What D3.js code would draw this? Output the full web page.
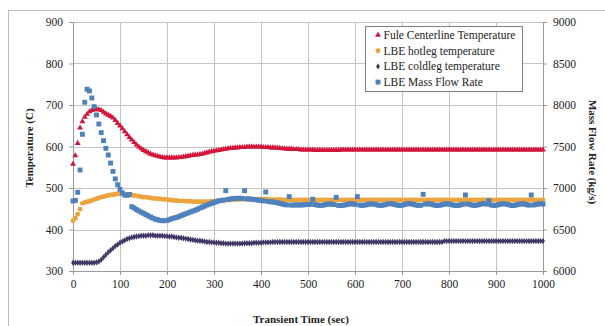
<!DOCTYPE html>
<html>
<head>
<meta charset="utf-8">
<script src="https://cdn.jsdelivr.net/npm/d3@7"></script>
<style>
  body { margin: 0; background: #fff; }
  svg { display: block; }
  text { font-family: "Liberation Serif", "Times New Roman", serif; fill: #222; }
</style>
</head>
<body>
<svg id="chart" width="605" height="326"></svg>
<script>
// sample times (s), one reading every 5 s
const time = d3.range(0, 1001, 5);

// Fuel centerline temperature (C)
const fuelTemp = [
  558, 578, 608, 645, 660, 671, 678, 684, 687, 689,
  690, 689, 687, 683, 679, 676, 673, 669, 663, 656,
  650, 643, 636, 629, 622, 616, 610, 604, 599, 595,
  591, 588, 585, 582, 580, 578, 577, 575, 574, 573,
  573, 573, 573, 573, 573, 574, 574, 575, 576, 577,
  578, 579, 580, 580, 581, 582, 584, 585, 587, 588,
  589, 590, 591, 592, 593, 594, 595, 596, 596, 597,
  597, 598, 598, 598, 599, 599, 599, 599, 599, 599,
  599, 598, 598, 598, 597, 597, 597, 596, 596, 595,
  595, 594, 594, 594, 593, 593, 593, 592, 592, 592,
  592, 592, 592, 591, 591, 591, 591, 591, 591, 591,
  591, 591, 591, 591, 592, 592, 592, 592, 592, 592,
  592, 592, 592, 592, 592, 592, 592, 592, 592, 592,
  592, 592, 592, 592, 592, 592, 592, 592, 592, 592,
  592, 592, 592, 592, 592, 592, 592, 592, 592, 592,
  592, 592, 592, 592, 592, 592, 592, 592, 592, 592,
  592, 592, 592, 592, 592, 592, 592, 592, 592, 592,
  592, 592, 592, 592, 592, 592, 592, 592, 592, 592,
  592, 592, 592, 592, 592, 592, 592, 592, 592, 592,
  592, 592, 592, 592, 592, 592, 592, 592, 592, 592,
  592
];

// LBE hotleg temperature (C)
const hotTemp = [
  421, 427, 437, 449, 463, 465, 467, 468, 470, 472,
  474, 476, 478, 479, 481, 482, 483, 484, 485, 486,
  486, 486, 485, 484, 483, 483, 482, 481, 480, 479,
  478, 478, 477, 476, 475, 475, 474, 474, 473, 473,
  472, 471, 471, 470, 470, 469, 469, 469, 468, 468,
  468, 467, 467, 467, 467, 467, 467, 467, 467, 468,
  468, 469, 469, 470, 470, 471, 471, 471, 472, 472,
  472, 473, 473, 473, 473, 473, 473, 473, 473, 473,
  473, 473, 473, 473, 472, 472, 472, 472, 472, 472,
  471, 471, 471, 471, 471, 471, 471, 471, 471, 471,
  471, 471, 471, 471, 471, 471, 471, 471, 471, 471,
  471, 471, 471, 471, 471, 471, 471, 471, 471, 471,
  471, 471, 471, 471, 471, 471, 471, 471, 471, 471,
  471, 471, 471, 471, 471, 471, 471, 471, 471, 471,
  471, 471, 471, 471, 471, 471, 471, 471, 471, 471,
  471, 471, 471, 471, 471, 471, 471, 471, 471, 471,
  471, 471, 471, 471, 471, 471, 471, 471, 471, 471,
  471, 471, 471, 471, 471, 471, 471, 471, 471, 471,
  471, 471, 471, 471, 471, 471, 471, 471, 471, 471,
  471, 471, 471, 471, 471, 471, 471, 471, 471, 471,
  471
];

// LBE coldleg temperature (C)
const coldTemp = [
  320, 320, 320, 320, 320, 320, 320, 320, 320, 320,
  321, 323, 327, 333, 339, 345, 350, 355, 360, 364,
  368, 371, 374, 377, 379, 381, 382, 383, 384, 385,
  385, 385, 386, 386, 386, 385, 385, 385, 385, 384,
  384, 383, 383, 382, 381, 380, 380, 379, 378, 377,
  376, 375, 374, 373, 373, 372, 371, 370, 370, 369,
  369, 368, 368, 367, 367, 366, 366, 366, 366, 366,
  366, 366, 366, 367, 367, 367, 367, 368, 368, 368,
  368, 369, 369, 369, 369, 370, 370, 370, 370, 370,
  370, 370, 370, 370, 370, 370, 370, 370, 370, 370,
  370, 370, 370, 370, 370, 370, 370, 370, 370, 370,
  370, 370, 370, 370, 370, 370, 370, 370, 370, 370,
  370, 370, 370, 370, 370, 370, 370, 370, 370, 370,
  370, 370, 370, 370, 370, 370, 370, 370, 370, 370,
  370, 370, 370, 370, 370, 370, 370, 370, 370, 370,
  370, 370, 370, 370, 370, 370, 370, 370, 372, 372,
  372, 372, 372, 372, 372, 372, 372, 372, 372, 372,
  372, 372, 372, 372, 372, 372, 372, 372, 372, 372,
  372, 372, 372, 372, 372, 372, 372, 372, 372, 372,
  372, 372, 372, 372, 372, 372, 372, 372, 372, 372,
  372
];

// LBE mass flow rate (kg/s)
const massFlow = [
  6843, 6850, 6948, 7217, 7647, 8033, 8190, 8169, 8085, 7980,
  7880, 7771, 7667, 7570, 7478, 7398, 7300, 7200, 7110, 7040,
  6985, 6940, 6915, 6912, 6922, 6775, 6760, 6740, 6725, 6708,
  6695, 6680, 6665, 6650, 6637, 6625, 6617, 6610, 6606, 6606,
  6610, 6618, 6630, 6638, 6645, 6655, 6668, 6678, 6690, 6700,
  6712, 6722, 6732, 6745, 6758, 6770, 6782, 6795, 6805, 6815,
  6825, 6835, 6845, 6850, 6855, 6968, 6862, 6868, 6872, 6875,
  6876, 6876, 6875, 6968, 6870, 6868, 6866, 6862, 6858, 6852,
  6848, 6845, 6952, 6838, 6835, 6832, 6828, 6822, 6815, 6808,
  6800, 6796, 6896, 6794, 6795, 6796, 6795, 6796, 6797, 6800,
  6802, 6804, 6864, 6800, 6795, 6790, 6792, 6797, 6803, 6808,
  6806, 6800, 6888, 6790, 6788, 6792, 6798, 6804, 6810, 6808,
  6803, 6896, 6794, 6790, 6793, 6799, 6806, 6810, 6806, 6800,
  6793, 6790, 6794, 6801, 6808, 6812, 6808, 6801, 6794, 6790,
  6793, 6800, 6808, 6812, 6809, 6802, 6795, 6790, 6792, 6924,
  6806, 6811, 6808, 6800, 6793, 6789, 6792, 6799, 6806, 6810,
  6807, 6800, 6793, 6789, 6791, 6798, 6805, 6916, 6807, 6800,
  6793, 6790, 6795, 6802, 6809, 6812, 6806, 6847, 6795, 6790,
  6792, 6799, 6806, 6811, 6808, 6801, 6794, 6789, 6792, 6799,
  6806, 6810, 6807, 6800, 6793, 6916, 6795, 6802, 6808, 6811,
  6806
];

const timeTicks = d3.range(0, 1001, 100);
const tempTicks = [300, 400, 500, 600, 700, 800, 900];
const flowTicks = [6000, 6500, 7000, 7500, 8000, 8500, 9000];

const legendLabels = [
  'Fule Centerline Temperature',
  'LBE hotleg temperature',
  'LBE coldleg temperature',
  'LBE Mass Flow Rate'
];

const margin = { top: 22, right: 62, bottom: 55, left: 73 };
const width = 605 - margin.left - margin.right;
const height = 326 - margin.top - margin.bottom;

const root = d3.select('#chart');

// outer chart frame (only the left/top edges fall inside the picture)
root.append('rect')
  .attr('x', 8.5)
  .attr('y', 10.5)
  .attr('width', 620)
  .attr('height', 340)
  .attr('fill', '#fff')
  .attr('stroke', '#bfbfbf');

const svg = root.append('g')
  .attr('transform', `translate(${margin.left},${margin.top})`);

const x = d3.scaleLinear().domain([0, 1000]).range([0, width]);
const y = d3.scaleLinear().domain([300, 900]).range([height, 0]);
const y2 = d3.scaleLinear().domain([6000, 9000]).range([height, 0]);

// gridlines
svg.append('g')
  .selectAll('line')
  .data(tempTicks)
  .enter()
  .append('line')
  .attr('x1', 0)
  .attr('x2', width)
  .attr('y1', d => Math.round(y(d)) + 0.5)
  .attr('y2', d => Math.round(y(d)) + 0.5)
  .attr('stroke', '#c4c4c4');

svg.append('g')
  .selectAll('line')
  .data(timeTicks)
  .enter()
  .append('line')
  .attr('x1', d => Math.round(x(d)) + 0.5)
  .attr('x2', d => Math.round(x(d)) + 0.5)
  .attr('y1', 0)
  .attr('y2', height)
  .attr('stroke', '#c4c4c4');

function styleAxis(g) {
  g.select('.domain').attr('stroke', '#9a9a9a');
  g.selectAll('.tick line').attr('stroke', '#9a9a9a');
  g.selectAll('.tick text')
    .attr('fill', '#222')
    .style('font-family', '"Liberation Serif", "Times New Roman", serif')
    .style('font-size', '11.5px');
}

const plain = d3.format('d');

// axes
svg.append('g')
  .attr('transform', `translate(0,${height})`)
  .call(d3.axisBottom(x).tickValues(timeTicks).tickFormat(plain).tickSize(4).tickSizeOuter(0).tickPadding(5))
  .call(styleAxis);

svg.append('g')
  .call(d3.axisLeft(y).tickValues(tempTicks).tickFormat(plain).tickSize(4).tickSizeOuter(0).tickPadding(6))
  .call(styleAxis);

svg.append('g')
  .attr('transform', `translate(${width},0)`)
  .call(d3.axisRight(y2).tickValues(flowTicks).tickFormat(plain).tickSize(4).tickSizeOuter(0).tickPadding(6))
  .call(styleAxis);

// axis titles
root.append('text')
  .attr('x', 301)
  .attr('y', 323)
  .attr('text-anchor', 'middle')
  .style('font-size', '11px')
  .style('font-weight', 'bold')
  .text('Transient Time (sec)');

root.append('text')
  .attr('transform', 'translate(33,148) rotate(-90)')
  .attr('text-anchor', 'middle')
  .style('font-size', '11px')
  .style('font-weight', 'bold')
  .text('Temperature (C)');

root.append('text')
  .attr('transform', 'translate(589,152) rotate(90)')
  .attr('text-anchor', 'middle')
  .style('font-size', '11px')
  .style('font-weight', 'bold')
  .text('Mass Flow Rate (kg/s)');

// series
const series = [
  { values: fuelTemp, scale: y, shape: d3.symbolTriangle, size: 15, color: '#d4143a' },
  { values: hotTemp, scale: y, shape: d3.symbolCircle, size: 19, color: '#eca43e' },
  { values: coldTemp, scale: y, shape: d3.symbolDiamond, size: 12, color: '#413565' },
  { values: massFlow, scale: y2, shape: d3.symbolSquare, size: 24, color: '#4f81bd' }
];

series.forEach(s => {
  const pts = time.map((t, i) => ({ t: t, v: s.values[i] }));
  svg.append('g')
    .selectAll('path')
    .data(pts)
    .enter()
    .append('path')
    .attr('transform', d => `translate(${x(d.t)},${s.scale(d.v)})`)
    .attr('d', d3.symbol().type(s.shape).size(s.size))
    .attr('fill', s.color);
});

// legend
const legend = root.append('g')
  .attr('transform', 'translate(365.5,26.5)');

legend.append('rect')
  .attr('width', 157)
  .attr('height', 65)
  .attr('fill', '#fff')
  .attr('stroke', '#808080');

legendLabels.forEach((label, i) => {
  const ly = 8.5 + i * 15.7;
  legend.append('path')
    .attr('transform', `translate(12.5,${ly})`)
    .attr('d', d3.symbol().type(series[i].shape).size(series[i].size))
    .attr('fill', series[i].color);

  legend.append('text')
    .attr('x', 18)
    .attr('y', ly)
    .attr('dy', '0.35em')
    .style('font-size', '11.5px')
    .text(label);
});
</script>
</body>
</html>
